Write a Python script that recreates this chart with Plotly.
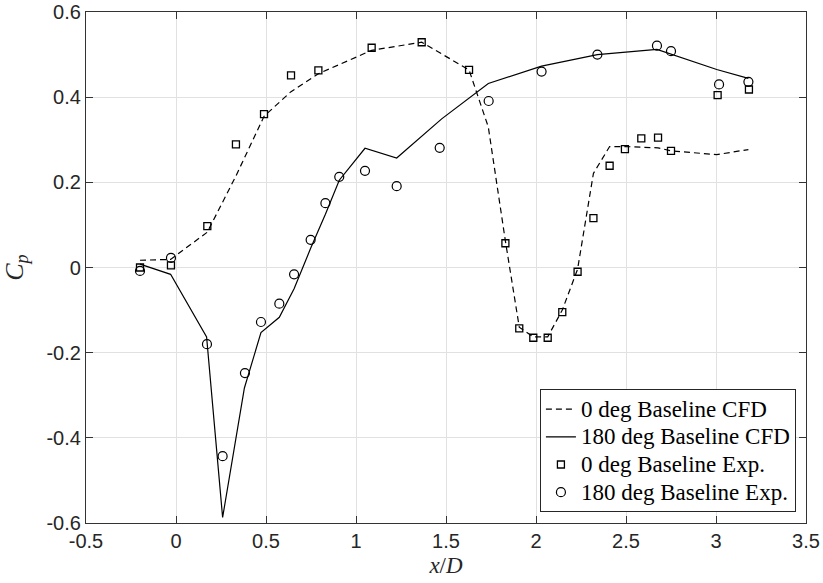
import plotly.graph_objects as go

# 0 deg baseline, CFD (dashed)
x_cfd0 = [-0.2, -0.03, 0.174, 0.333, 0.489, 0.639, 0.791, 1.087, 1.365, 1.628,
          1.735, 1.83, 1.907, 1.985, 2.065, 2.146, 2.231, 2.319, 2.409, 2.494,
          2.678, 2.75, 3.004, 3.18]
cp_cfd0 = [0.017, 0.019, 0.083, 0.215, 0.355, 0.413, 0.455, 0.51, 0.529, 0.464,
           0.33, 0.062, -0.14, -0.163, -0.163, -0.1, -0.004, 0.221, 0.284, 0.284,
           0.281, 0.274, 0.265, 0.277]

# 180 deg baseline, CFD (solid)
x_cfd180 = [-0.2, -0.03, 0.17, 0.259, 0.38, 0.472, 0.574, 0.656, 0.748, 0.83,
            0.907, 1.05, 1.226, 1.476, 1.735, 2.031, 2.341, 2.672, 3.004, 3.18]
cp_cfd180 = [0.008, -0.016, -0.163, -0.587, -0.283, -0.153, -0.117, -0.05, 0.045, 0.125,
             0.205, 0.28, 0.257, 0.349, 0.432, 0.473, 0.5, 0.512, 0.465, 0.444]

# 0 deg baseline, experiment (squares)
x_exp0 = [-0.2, -0.028, 0.174, 0.333, 0.489, 0.639, 0.791, 1.087, 1.365, 1.628,
          1.83, 1.907, 1.985, 2.065, 2.146, 2.231, 2.319, 2.409, 2.494, 2.585,
          2.678, 2.75, 3.009, 3.183]
cp_exp0 = [0.0, 0.005, 0.097, 0.289, 0.360, 0.451, 0.463, 0.516, 0.529, 0.464,
           0.057, -0.143, -0.165, -0.165, -0.105, -0.010, 0.116, 0.239, 0.278, 0.303,
           0.305, 0.274, 0.405, 0.418]

# 180 deg baseline, experiment (circles)
x_exp180 = [-0.2, -0.028, 0.172, 0.259, 0.383, 0.472, 0.574, 0.656, 0.748, 0.83,
            0.907, 1.05, 1.226, 1.465, 1.737, 2.031, 2.341, 2.672, 2.75, 3.017, 3.18]
cp_exp180 = [-0.008, 0.0225, -0.180, -0.443, -0.248, -0.128, -0.085, -0.016, 0.065, 0.151,
             0.213, 0.227, 0.191, 0.281, 0.391, 0.460, 0.5, 0.521, 0.508, 0.43, 0.436]

series_names = ["0 deg Baseline CFD", "180 deg Baseline CFD",
                "0 deg Baseline Exp.", "180 deg Baseline Exp."]

x_ticks = [-0.5, 0, 0.5, 1, 1.5, 2, 2.5, 3, 3.5]
x_tick_text = ["-0.5", "0", "0.5", "1", "1.5", "2", "2.5", "3", "3.5"]
y_ticks = [-0.6, -0.4, -0.2, 0, 0.2, 0.4, 0.6]
y_tick_text = ["-0.6", "-0.4", "-0.2", "0", "0.2", "0.4", "0.6"]

SERIF = "Liberation Serif, Times New Roman, serif"
SANS = "Liberation Sans Narrow, Liberation Sans, Arial, sans-serif"


def legend_label(text):
    # larger glyphs than the legend's base size keep the rows tightly packed
    return '<span style="font-size:23px">' + text + "</span>"


fig = go.Figure()
fig.add_trace(go.Scatter(x=x_cfd0, y=cp_cfd0, mode="lines", name=legend_label(series_names[0]),
                         line=dict(color="black", width=1.2, dash="6px,4px")))
fig.add_trace(go.Scatter(x=x_cfd180, y=cp_cfd180, mode="lines", name=legend_label(series_names[1]),
                         line=dict(color="black", width=1.2)))
fig.add_trace(go.Scatter(x=x_exp0, y=cp_exp0, mode="markers", name=legend_label(series_names[2]),
                         marker=dict(symbol="square-open", size=7, color="black",
                                     line=dict(width=1.3, color="black"))))
fig.add_trace(go.Scatter(x=x_exp180, y=cp_exp180, mode="markers", name=legend_label(series_names[3]),
                         marker=dict(symbol="circle-open", size=9, color="black",
                                     line=dict(width=1.2, color="black"))))

axis_common = dict(
    showgrid=True, gridcolor="#e1e1e1", gridwidth=1,
    showline=True, linecolor="#333333", linewidth=1.3, mirror="ticks",
    ticks="inside", ticklen=7, tickwidth=1, tickcolor="#333333",
    zeroline=False, ticklabeloverflow="allow", automargin=False,
    tickfont=dict(family=SANS, size=20, color="#262626"),
)

fig.update_layout(
    width=823, height=583,
    margin=dict(l=86, r=17, t=12, b=60),
    paper_bgcolor="white", plot_bgcolor="white",
    xaxis=dict(range=[-0.5, 3.5], tickvals=x_ticks, ticktext=x_tick_text,
               title=dict(text="<i>x</i>/<i>D</i>", font=dict(family=SERIF, size=23, color="#262626"),
                          standoff=5),
               **axis_common),
    yaxis=dict(range=[-0.6, 0.6], tickvals=y_ticks, ticktext=y_tick_text,
               title=dict(text="<i>C</i><sub><i>p</i></sub>", font=dict(family=SERIF, size=26, color="#262626"),
                          standoff=17),
               **axis_common),
    legend=dict(x=0.986, y=0.021, xanchor="right", yanchor="bottom",
                bgcolor="white", bordercolor="#262626", borderwidth=1,
                font=dict(family=SERIF, size=19, color="black"),
                itemwidth=30, tracegroupgap=0),
    showlegend=True,
)

fig.write_html("out.html")
